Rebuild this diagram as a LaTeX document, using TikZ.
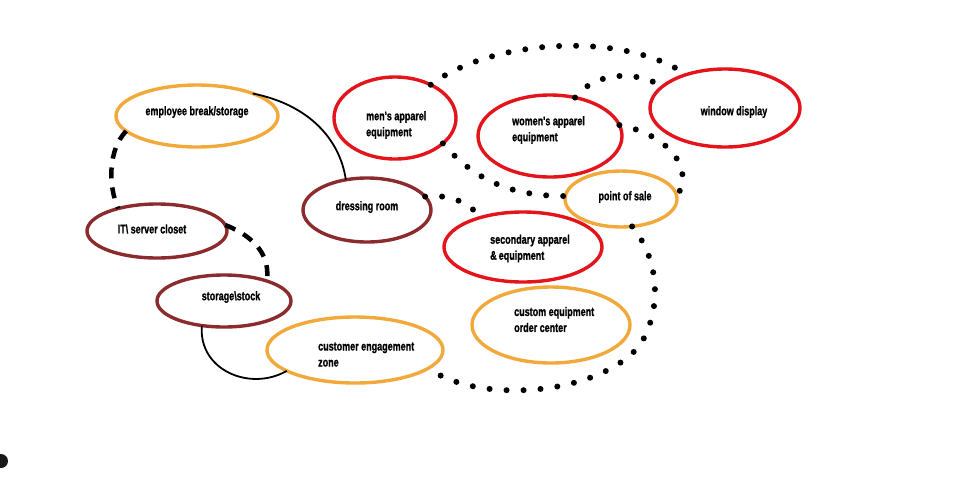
\documentclass[tikz,border=0pt]{standalone}
\usepackage{fontspec}
\newfontfamily\lblfont{Liberation Sans}[FakeStretch=0.72,FakeBold=1.2]
\usetikzlibrary{shapes.geometric}
\definecolor{redc}{HTML}{E3141B}
\definecolor{orangec}{HTML}{F2A93B}
\definecolor{darkredc}{HTML}{8B2B2E}
\tikzset{
  ell/.style={ellipse, inner sep=0pt, outer sep=0pt, line width=3.4pt},
  redell/.style={ell, draw=redc},
  orell/.style={ell, draw=orangec},
  drell/.style={ell, draw=darkredc},
  lbl/.style={font=\lblfont\bfseries\fontsize{12.5}{16}\selectfont, inner sep=0pt, text=black},
  dotline/.style={line width=6pt, line cap=round, dash pattern=on 0pt off 17pt},
  dashline/.style={line width=4.5pt, dash pattern=on 11pt off 9pt},
  solidline/.style={line width=1.8pt, black},
}
\begin{document}
\begin{tikzpicture}[x=1pt,y=-1pt]
\useasboundingbox (0,0) rectangle (960,483);
% ellipses
\node[orell, minimum width=162pt, minimum height=62pt] (emp) at (197,116) {};
\node[drell, minimum width=140pt, minimum height=54pt] (it) at (157,231) {};
\node[drell, minimum width=128pt, minimum height=64pt] (dress) at (367,210) {};
\node[redell, minimum width=122pt, minimum height=82pt] (men) at (395,118) {};
\node[redell, minimum width=144pt, minimum height=82pt] (women) at (550,136) {};
\node[redell, minimum width=150pt, minimum height=78pt] (win) at (725,108) {};
\node[orell, minimum width=112pt, minimum height=56pt] (pos) at (621,199) {};
\node[redell, minimum width=158pt, minimum height=70pt] (sec) at (523,247) {};
\node[orell, minimum width=158pt, minimum height=76pt] (cust) at (551,325) {};
\node[drell, minimum width=134pt, minimum height=52pt] (stor) at (224,301) {};
\node[orell, minimum width=176pt, minimum height=66pt] (eng) at (355,350) {};
% labels
\node[lbl] (empT) at (197,112) {employee break/storage};
\node[lbl] (itT) at (152,229) {IT\textbackslash{} server closet};
\node[lbl] (dressT) at (367,207) {dressing room};
\node[lbl, anchor=west, align=left] (menT) at (366,125) {men's apparel\\equipment};
\node[lbl, anchor=west, align=left] (womenT) at (512,130) {women's apparel\\equipment};
\node[lbl] (winT) at (734,112) {window display};
\node[lbl] (posT) at (625,197) {point of sale};
\node[lbl, anchor=west, align=left] (secT) at (490,248.5) {secondary apparel\\\&\,equipment};
\node[lbl, anchor=west, align=left] (custT) at (514,319.5) {custom equipment\\order center};
\node[lbl] (storT) at (231,297) {storage\textbackslash{}stock};
\node[lbl, anchor=west, align=left] (engT) at (318,354.5) {customer engagement\\zone};
% solid connectors
\draw[solidline] (emp.22) .. controls (310,105) and (340,140) .. (dress.125);
\draw[solidline] (stor.228) .. controls (198,370) and (250,392) .. (eng.197);
% dashed connectors
\draw[dashline] (emp.192) .. controls (108,150) and (108,185) .. (it.150);
\draw[dashline] (it.5) .. controls (258,238) and (270,258) .. (stor.25);
% dotted connectors
\draw[dotline] (men.43) .. controls (490,40) and (620,30) .. (win.139);
\draw[dotline] (women.57) .. controls (595,72) and (635,70) .. (win.161);
\draw[dotline] (men.-28) .. controls (475,180) and (510,196) .. (pos.177);
\draw[dotline] (women.9) .. controls (670,135) and (695,170) .. (pos.3);
\coordinate (bend) at (640,345);
\draw[dotline] (pos.-68) .. controls (660,260) and (662,310) .. (bend) .. controls (600,395) and (480,405) .. (eng.-14);
\draw[dotline] (dress.13) .. controls (450,194) and (468,202) .. (sec.145);
% stray dot at left edge
\fill[black!90] (1,461) circle (7pt);
\end{tikzpicture}
\end{document}
